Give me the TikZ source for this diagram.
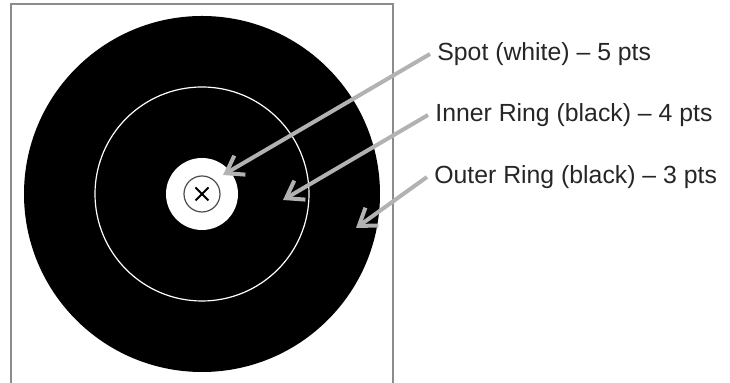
\documentclass[tikz,border=0pt]{standalone}
\usepackage{fontspec}
\setmainfont{Liberation Sans}
\usetikzlibrary{arrows.meta}

\tikzset{
  lbl/.style={anchor=west, inner xsep=3.5pt, inner ysep=0pt, text=black!85,
    font=\fontsize{12.4}{14}\selectfont},
  ptr/.style={draw=black!30, line width=2pt,
    -{Straight Barb[length=8pt, width=11pt]}}
}

\begin{document}
\begin{tikzpicture}[x=0.5pt, y=-0.5pt]
    \useasboundingbox (0,0) rectangle (730,383);
    \def\cx{202} % target centre x
    \def\cy{194} % target centre y

    % Frame (open at the bottom)
    \draw[black!45, line width=0.8pt] (11,390) -- (11,4) -- (393,4) -- (393,390);

    % Target
    \fill[black] (\cx,\cy) circle (178);
    \draw[white, line width=0.6pt] (\cx,\cy) circle (107);
    \fill[white] (\cx,\cy) circle (36);
    \draw[black!70, line width=0.6pt] (\cx,\cy) circle (18);

    % Centre cross
    \draw[black, line width=1pt] (\cx-6.5,\cy-6.5) -- (\cx+6.5,\cy+6.5);
    \draw[black, line width=1pt] (\cx-6.5,\cy+6.5) -- (\cx+6.5,\cy-6.5);

    % Arrow targets
    \coordinate (spotT) at (223,175);
    \coordinate (innerT) at (283,200);
    \coordinate (outerT) at (356,228);

    % Labels
    \node[lbl] (spot) at (430,54) {Spot (white) -- 5 pts};
    \node[lbl] (inner) at (428,115) {Inner Ring (black) -- 4 pts};
    \node[lbl] (outer) at (427,177) {Outer Ring (black) -- 3 pts};

    % Pointers
    \draw[ptr] (spot.west) -- (spotT);
    \draw[ptr] (inner.west) -- (innerT);
    \draw[ptr] (outer.west) -- (outerT);

\end{tikzpicture}
\end{document}
